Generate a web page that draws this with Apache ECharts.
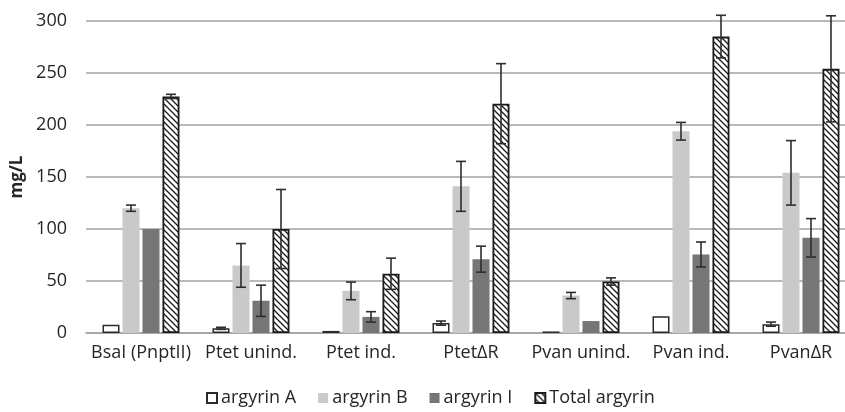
<!DOCTYPE html>
<html>
<head>
<meta charset="utf-8">
<script src="https://cdn.jsdelivr.net/npm/echarts@6/dist/echarts.min.js"></script>
<style>
  html, body { margin: 0; padding: 0; background: #fff; overflow: hidden; }
  #chart { width: 845px; height: 412px; }
</style>
</head>
<body>
<div id="chart"></div>
<script>
// Argyrin production per promoter construct (mg/L), mean ± error
const categories = ['BsaI (PnptII)', 'Ptet unind.', 'Ptet ind.', 'PtetΔR', 'Pvan unind.', 'Pvan ind.', 'PvanΔR'];
const seriesNames = ['argyrin A', 'argyrin B', 'argyrin I', 'Total argyrin'];
const argyrinA    = [8, 4.5, 2, 9.5, 1.5, 16, 8.5];
const argyrinAErr = [0, 1, 0.5, 2, 0.3, 0, 2];
const argyrinB    = [120, 65, 40.5, 141, 36, 194, 154];
const argyrinBErr = [3, 21, 8.5, 24, 3, 8.5, 31];
const argyrinI    = [100, 31, 15.5, 71, 11.5, 75.5, 91.5];
const argyrinIErr = [0.3, 15, 5, 12.5, 0.5, 12, 18.5];
const totalArg    = [227.5, 100, 57, 220.5, 49.5, 285, 254];
const totalErr    = [2, 38, 15, 38.5, 3.5, 20.5, 51];
const yTicks = [0, 50, 100, 150, 200, 250, 300];

const FONT = 'Open Sans';
const TEXT = '#262626';
const BAR_W = 17;
const BAR_GAP_PX = 3;

// diagonal hatch fill for the total bars
function hatch() {
  const s = 6;
  const c = document.createElement('canvas');
  c.width = s; c.height = s;
  const g = c.getContext('2d');
  g.fillStyle = '#fff';
  g.fillRect(0, 0, s, s);
  g.strokeStyle = '#1a1a1a';
  g.lineWidth = 1.3;
  g.beginPath();
  g.moveTo(-1, -1); g.lineTo(s + 1, s + 1);
  g.moveTo(-1, s - 1); g.lineTo(1, s + 1);
  g.moveTo(s - 1, -1); g.lineTo(s + 1, 1);
  g.stroke();
  return { image: c, repeat: 'repeat' };
}

const values = [argyrinA, argyrinB, argyrinI, totalArg];
const errors = [argyrinAErr, argyrinBErr, argyrinIErr, totalErr];
const styles = [
  { color: '#ffffff', borderColor: '#2b2b2b', borderWidth: 1.5 },
  { color: '#c9c9c9' },
  { color: '#767676' },
  { color: hatch(), borderColor: '#1a1a1a', borderWidth: 1.8 }
];

const series = [];
values.forEach((vals, i) => {
  series.push({
    name: seriesNames[i],
    type: 'bar',
    data: vals,
    barWidth: BAR_W,
    barGap: (BAR_GAP_PX / BAR_W * 100).toFixed(1) + '%',
    itemStyle: styles[i],
    emphasis: { disabled: true },
    z: 2
  });
});

// error bars drawn on top of each bar
values.forEach((vals, i) => {
  const offset = (i - 1.5) * (BAR_W + BAR_GAP_PX);
  series.push({
    type: 'custom',
    name: seriesNames[i] + ' error',
    data: vals.map((v, k) => [k, v - errors[i][k], v + errors[i][k]]),
    encode: { x: 0, y: [1, 2] },
    z: 5,
    silent: true,
    renderItem: function (params, api) {
      const x = api.coord([api.value(0), 0])[0] + offset;
      const lo = api.coord([api.value(0), api.value(1)])[1];
      const hi = api.coord([api.value(0), api.value(2)])[1];
      if (Math.abs(hi - lo) < 1.5) return null;
      const cap = 5;
      const st = { stroke: '#2e2e2e', lineWidth: 1.6 };
      return {
        type: 'group',
        children: [
          { type: 'line', shape: { x1: x, y1: hi, x2: x, y2: lo }, style: st },
          { type: 'line', shape: { x1: x - cap, y1: hi, x2: x + cap, y2: hi }, style: st },
          { type: 'line', shape: { x1: x - cap, y1: lo, x2: x + cap, y2: lo }, style: st }
        ]
      };
    }
  });
});

const chart = echarts.init(document.getElementById('chart'), null, { renderer: 'canvas' });
chart.setOption({
  animation: false,
  backgroundColor: '#ffffff',
  textStyle: { fontFamily: FONT, color: TEXT },
  // plot area runs a little past the right edge of the canvas
  grid: { left: 86, right: -11, top: 21, bottom: 79, containLabel: false, outerBoundsMode: 'none' },
  legend: {
    data: seriesNames,
    bottom: 0,
    left: 201,
    itemWidth: 10,
    itemHeight: 10,
    itemGap: 22,
    icon: 'rect',
    textStyle: { fontFamily: FONT, fontSize: 18, color: TEXT, padding: [0, 0, 0, -1] }
  },
  xAxis: {
    type: 'category',
    data: categories,
    axisLine: { lineStyle: { color: '#a3a3a3', width: 1.6 } },
    axisTick: { show: false },
    axisLabel: { fontFamily: FONT, fontSize: 18, color: TEXT, margin: 11, interval: 0 }
  },
  yAxis: {
    type: 'value',
    min: yTicks[0],
    max: yTicks[yTicks.length - 1],
    interval: yTicks[1] - yTicks[0],
    name: 'mg/L',
    nameLocation: 'middle',
    nameGap: 48,
    nameTextStyle: { fontFamily: FONT, fontSize: 17, fontWeight: 'bold', color: TEXT, padding: [0, 0, 12, 0] },
    axisLine: { show: false },
    axisTick: { show: false },
    axisLabel: { fontFamily: FONT, fontSize: 18, color: TEXT, margin: 19 },
    splitLine: { lineStyle: { color: '#a3a3a3', width: 1.6 } }
  },
  series: series
});
</script>
</body>
</html>
